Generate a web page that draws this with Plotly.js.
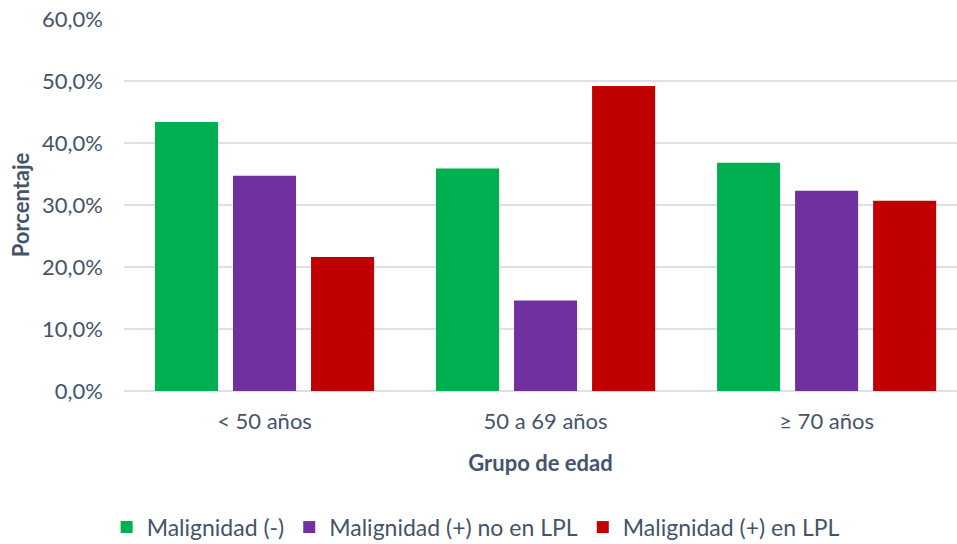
<!DOCTYPE html>
<html>
<head>
<meta charset="utf-8">
<script src="https://cdn.plot.ly/plotly-3.0.1.min.js"></script>
<style>
  html, body { margin: 0; padding: 0; background: #ffffff; overflow: hidden; }
  #chart { width: 957px; height: 544px; }
</style>
</head>
<body>
<div id="chart"></div>
<script>
// Age groups on the x axis
const grupos = ['< 50 años', '50 a 69 años', '≥ 70 años'];

// Percentage of patients per group (%)
const malignidadNeg = [43.4, 35.9, 36.8];
const malignidadPosNoLPL = [34.7, 14.6, 32.3];
const malignidadPosLPL = [21.6, 49.2, 30.7];

// Y axis ticks
const yTicks = [0, 10, 20, 30, 40, 50, 60];
const yTickText = ['0,0%', '10,0%', '20,0%', '30,0%', '40,0%', '50,0%', '60,0%'];

const textColor = '#44546A';
const fontFamily = 'Lato, "Open Sans", sans-serif';
const fontSize = 22;

const series = [
  { name: 'Malignidad (-)', y: malignidadNeg, color: '#00B050' },
  { name: 'Malignidad (+) no en LPL', y: malignidadPosNoLPL, color: '#7030A0' },
  { name: 'Malignidad (+) en LPL', y: malignidadPosLPL, color: '#C00000' }
];

const data = series.map(s => ({
  type: 'bar',
  name: s.name,
  x: grupos,
  y: s.y,
  marker: { color: s.color, line: { width: 0 } },
  hoverinfo: 'none'
}));

const layout = {
  width: 957,
  height: 544,
  margin: { l: 124, r: 0, t: 19, b: 153, autoexpand: false },
  paper_bgcolor: '#ffffff',
  plot_bgcolor: '#ffffff',
  font: { family: fontFamily, color: textColor, size: fontSize },
  barmode: 'group',
  bargap: 0.167,
  bargroupgap: 0.192,
  xaxis: {
    type: 'category',
    range: [-0.5, 2.464],
    showgrid: false,
    showline: false,
    zeroline: false,
    ticks: '',
    automargin: false,
    ticklabelstandoff: 15,
    tickfont: { family: fontFamily, size: fontSize, color: textColor },
    title: {
      text: 'Grupo de edad',
      font: { family: fontFamily, size: fontSize, color: textColor, weight: 'bold' },
      standoff: 22
    }
  },
  yaxis: {
    range: [0, 60],
    tickvals: yTicks,
    ticktext: yTickText,
    showgrid: true,
    gridcolor: '#DDE1E6',
    gridwidth: 2,
    zeroline: true,
    zerolinecolor: '#DDE1E6',
    zerolinewidth: 2,
    showline: false,
    ticks: '',
    automargin: false,
    ticklabelstandoff: 20,
    tickfont: { family: fontFamily, size: fontSize, color: textColor },
    title: {
      text: 'Porcentaje',
      font: { family: fontFamily, size: fontSize, color: textColor, weight: 'bold' },
      standoff: 6
    }
  },
  legend: {
    orientation: 'h',
    x: 0.497,
    xref: 'container',
    xanchor: 'center',
    y: 0.031,
    yref: 'container',
    yanchor: 'middle',
    font: { family: fontFamily, size: 23, color: textColor },
    itemclick: false,
    itemdoubleclick: false
  },
  showlegend: true
};

Plotly.newPlot('chart', data, layout, { displayModeBar: false, staticPlot: true });
</script>
</body>
</html>
